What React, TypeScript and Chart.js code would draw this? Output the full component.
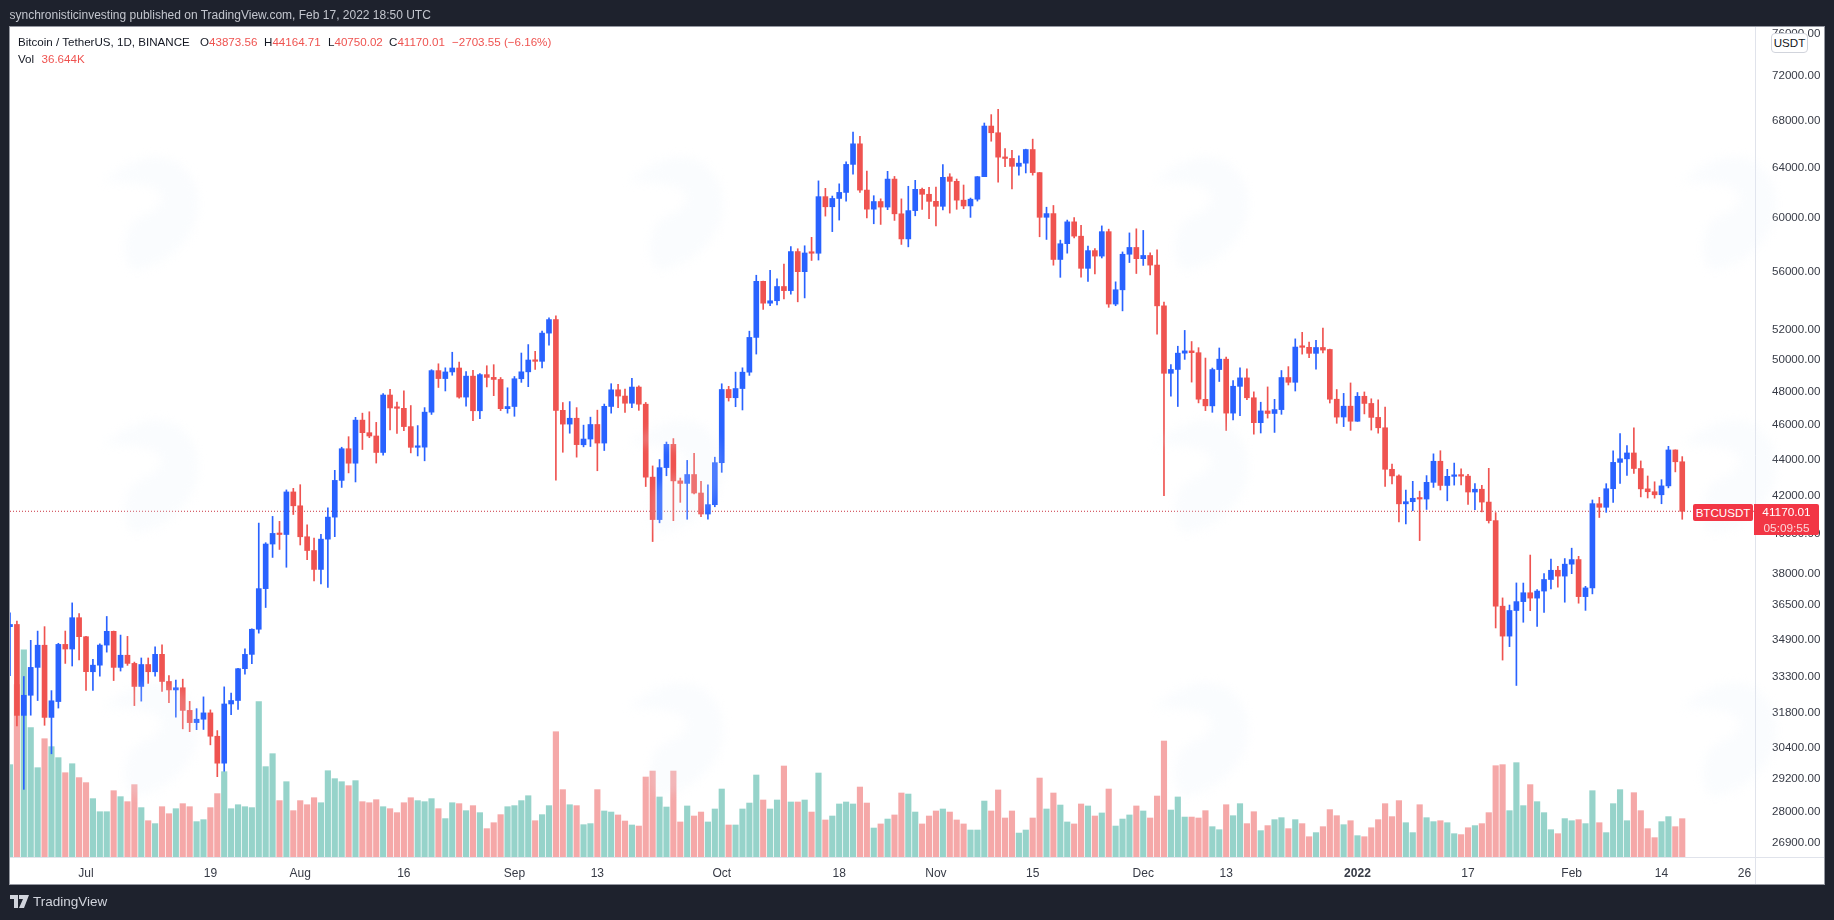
import React, { useEffect, useRef } from "react";
import { Chart, registerables } from "chart.js";

Chart.register(...registerables);

const opens = [35500,35600,31676,32505,33690,34663,31594,32243,34700,34494,35911,35045,33502,33786,34669,35287,33690,34220,33863,32875,33815,33502,34259,33086,32729,32820,31880,31383,31520,31778,30839,29790,32144,32287,33634,34258,35381,37276,39474,40016,39960,42206,41461,39845,39147,38207,39723,40862,42836,44614,43792,46284,45543,45350,44400,47800,47014,46990,45900,44695,44705,46760,49322,48821,49239,49488,47674,48974,46843,49069,48895,48767,46970,47100,48810,49246,49999,49915,51756,52666,46868,46048,46395,44842,45173,46025,44940,47103,48121,47737,47299,48292,47241,43016,40734,43546,44865,42810,42670,43160,42147,41025,41519,43820,48141,47634,48200,49224,51471,55315,53785,53955,54949,54660,57471,56005,57367,57347,61672,60875,61528,62005,64280,66001,62193,60688,61286,60852,63078,60328,58413,60575,62253,61859,61300,60911,63254,62896,61395,60940,61470,63273,67525,66947,64882,64774,64122,64380,65519,63606,60058,60344,56891,58057,59707,58617,56247,57541,57138,58960,53723,54716,57274,57776,56950,57184,56484,53601,49152,49396,50441,50588,50471,47535,47140,49389,50053,46702,48336,48864,47632,46133,46834,46681,46914,48887,48588,50838,50821,50428,50809,50679,47543,46470,47120,46217,47722,47286,46446,45832,43451,43082,41566,41679,41864,41822,42729,43902,42558,43059,43083,43071,42201,42352,41660,40680,36445,35071,36244,36660,37080,36825,37160,37716,38166,37881,38466,38694,36896,37311,41571,41382,42380,43839,44038,44372,43495,42373,42217,42053,42535,44544,43873.56];
const highs = [36137,35750,33298,34881,35298,35500,32700,34749,35300,36600,36100,35060,34042,34725,35967,35300,35118,35059,33920,34100,34100,34592,34678,33340,33150,33185,32250,31950,32438,31900,31063,32858,32600,33650,34500,35398,40550,39542,40900,40640,42316,42400,42600,40460,39780,39969,41350,43392,44700,45310,46450,46700,46784,46150,47886,48144,47372,48053,47160,45960,47033,49382,49757,49500,50500,49860,49264,49342,49131,49632,49700,48888,48246,48950,50450,51000,50558,51900,52780,52920,47340,47399,47033,45987,46460,46880,47250,48500,48460,48168,48843,48368,47347,43639,44000,45000,45200,42966,43950,44350,42787,42590,44132,48495,48336,49228,49500,51886,55750,55332,56100,55489,56561,57839,57680,57900,58532,62933,62333,61718,62695,64486,67000,66639,63732,61747,61500,63710,63293,61496,62499,62980,62359,62405,62437,64270,63516,63086,62600,61560,63286,67789,68524,69000,65600,65460,64985,65550,66401,63617,60840,60976,58320,59845,60029,59444,57875,57700,59398,59150,55280,57445,58865,59176,59053,57375,57600,53859,49699,50891,51936,51200,50797,50125,49485,50777,50189,48700,49500,49436,47995,47360,48300,47537,49328,49576,51375,51810,51156,51280,52088,50704,48139,47900,48548,47954,47990,47570,47505,47070,43748,43145,42300,42786,42248,43100,44322,44500,43448,43800,43475,43176,42664,42559,43505,41100,36835,36499,37550,37545,38919,37234,38000,38720,38359,38744,39265,38855,37387,41772,41913,42656,44500,45492,44799,45821,43920,43079,42760,42876,44751,44549,44164.71];
const lows = [33336,31251,28805,31683,32286,31275,30151,31975,33862,33750,34017,32711,32711,33316,34357,33125,33532,33777,32077,32261,33004,33307,32666,32200,31600,31133,31020,31100,31108,30500,29278,29482,31708,31924,33400,33850,35205,36383,38800,39200,38313,41000,39426,38683,37642,37508,37332,39850,42450,43250,42750,44570,45250,43800,44250,45700,45500,45660,44376,44203,43927,46622,48266,48050,49029,47600,47126,46250,46376,48300,47762,46853,46700,46512,48584,48316,49400,49500,50969,42843,44412,45513,44134,44722,44742,43370,44512,46700,47033,46750,47029,46868,42500,39600,40565,43091,40675,41646,40750,42098,40888,40753,41410,43283,47430,47088,46891,49022,50382,53357,53617,53661,54080,54415,53879,54150,56818,56850,60150,58963,59844,61322,63481,62000,60000,59562,59510,60650,59817,58000,57820,60174,60673,59945,59405,60624,60382,60677,60721,60050,61322,63273,66222,62822,64100,62278,63400,63576,63400,58574,58373,56474,55600,57353,58486,55610,55317,55837,57000,53500,53610,53256,56666,55875,56458,55777,51680,42000,47727,47100,50039,48600,47320,46852,46751,48638,45672,46290,46547,47511,45456,45524,46406,45558,46630,48421,48047,50378,50142,49412,50449,47313,46096,45900,45678,46208,46654,45696,45516,42500,42645,40610,40501,41200,39650,41268,42450,42311,41725,42577,42581,41540,41250,41138,40553,35440,34008,34601,32917,35701,36234,35507,36155,37268,37351,36632,38000,36586,36250,37026,40843,41116,41645,42667,43117,43216,41938,41880,41870,41570,42427,43307,40750.02];
const closes = [35600,31676,32505,33690,34663,31594,32276,34700,34494,35911,35045,33504,33786,34669,35287,33690,34220,33863,32875,33815,33502,34259,33086,32729,32820,31880,31383,31520,31778,30839,29790,32144,32287,33634,34258,35381,37276,39474,40016,39960,42206,41461,39845,39147,38207,39723,40862,42836,44614,43792,46284,45543,45350,44400,47800,47014,46990,45901,44695,44705,46760,49322,48821,49239,49488,47674,48974,46843,49069,48895,48767,46970,47100,48810,49246,49999,49915,51756,52663,46863,46048,46395,44850,45173,46025,44940,47111,48121,47737,47299,48292,47241,43015,40734,43543,44865,42810,42670,43160,42147,41026,41524,43824,48141,47634,48200,49224,51471,55315,53785,53951,54949,54659,57471,56005,57367,57347,61672,60875,61528,62009,64280,66001,62193,60688,61286,60852,63078,60328,58413,60575,62253,61859,61299,60911,63219,62896,61395,60937,61470,63273,67525,66947,64882,64774,64122,64380,65519,63606,60058,60344,56891,58052,59707,58622,56247,57541,57138,58960,53726,54721,57274,57776,56950,57184,56480,53601,49152,49396,50441,50588,50471,47545,47140,49389,50053,46702,48343,48864,47632,46131,46834,46681,46914,48887,48588,50838,50821,50429,50809,50640,47543,46464,47120,46216,47722,47286,46446,45832,43451,43082,41566,41680,41864,41822,42729,43902,42560,43059,43084,43071,42201,42352,41660,40680,36445,35071,36244,36660,37080,36826,37160,37716,38166,37881,38466,38694,36896,37311,41575,41382,42380,43839,44042,44372,43495,42373,42217,42053,42535,44544,43873,41170.01];
const volumes = [88.3,164.8,198.2,123.7,85.4,113.1,105.5,95.0,80.6,89.2,75.9,71.1,55.8,43.3,43.3,63.4,57.7,52.9,69.2,47.2,34.7,31.9,48.1,41.4,46.2,51.0,48.1,33.8,35.7,47.2,60.6,81.6,46.2,50.0,48.1,47.2,148.5,86.4,98.8,53.9,72.0,44.3,53.9,50.0,56.7,51.9,82.5,74.9,72.0,68.2,73.0,52.9,51.9,54.8,48.1,46.2,42.4,51.9,56.7,53.9,52.9,55.8,46.2,36.7,51.9,51.0,44.3,49.1,42.4,27.1,32.8,40.5,48.1,49.1,53.9,58.6,34.7,40.5,49.1,119.8,64.4,50.0,49.1,30.9,31.9,64.4,44.0,43.0,40.2,34.4,30.6,29.6,76.5,82.2,57.4,47.8,82.2,33.5,48.8,39.2,43.0,33.5,45.9,65.0,30.6,30.6,45.9,51.6,78.4,54.5,45.9,54.5,87.0,52.6,52.6,54.5,43.0,80.3,35.4,39.2,50.7,52.6,50.7,66.9,51.6,27.7,31.6,36.3,40.2,61.2,60.2,43.0,31.6,39.2,44.0,45.9,43.0,35.4,31.6,25.8,25.8,53.5,44.0,64.1,37.3,44.0,22.9,25.8,37.3,75.5,45.9,61.2,49.7,33.5,31.6,50.7,48.8,39.2,42.1,65.0,29.6,36.3,40.2,48.8,44.0,37.3,58.3,110.9,44.9,57.4,38.2,38.2,37.3,44.3,29.0,26.1,50.0,39.5,51.0,31.9,43.3,25.2,30.0,35.7,37.6,27.1,35.7,31.9,19.4,23.3,29.0,45.3,39.5,30.9,34.7,20.4,19.4,28.0,35.7,51.0,38.6,53.9,32.8,23.3,50.0,37.6,33.8,34.7,32.8,22.3,21.4,28.0,30.0,31.9,42.4,87.3,88.3,44.3,90.2,49.1,69.2,52.9,42.4,26.1,22.3,36.7,34.7,35.7,31.9,63.4,32.8,23.3,51.0,64.4,34.7,61.5,44.3,27.1,18.5,33.8,38.6,29.0,36.644];

const priceTicks = [76000,72000,68000,64000,60000,56000,52000,50000,48000,46000,44000,42000,40000,38000,36500,34900,33300,31800,30400,29200,28000,26900];
const xTickPositions = [11,29,42,57,73,85,103,120,134,148,164,176,195,211,226,239,251];
const xTickLabels = ["Jul","19","Aug","16","Sep","13","Oct","18","Nov","15","Dec","13","2022","17","Feb","14","26"];
const lastPrice = 41170.01;

const UP = "#2962ff";
const DOWN = "#ef5350";
const VOL_UP = "#96d3ca";
const VOL_DOWN = "#f5a8a8";
const FONT = '"Liberation Sans", Arial, sans-serif';

const W = 1834;
const H = 920;
const PANEL = { left: 10, top: 27, right: 1824, bottom: 884 };
const AXIS_X = 1755;
const AXIS_Y = 857;

const frame = {
  id: "frame",
  beforeDraw(chart: any) {
    const c = chart.ctx;
    c.save();
    c.fillStyle = "#1e222d";
    c.fillRect(0, 0, W, H);
    c.fillStyle = "#ffffff";
    c.fillRect(PANEL.left, PANEL.top, PANEL.right - PANEL.left, PANEL.bottom - PANEL.top);
    c.strokeStyle = "#e0e3eb";
    c.lineWidth = 1;
    c.beginPath();
    c.moveTo(AXIS_X + 0.5, PANEL.top);
    c.lineTo(AXIS_X + 0.5, PANEL.bottom);
    c.moveTo(PANEL.left, AXIS_Y + 0.5);
    c.lineTo(PANEL.right, AXIS_Y + 0.5);
    c.stroke();
    c.strokeStyle = "#9598a1";
    c.strokeRect(PANEL.left - 0.5, PANEL.top - 0.5, PANEL.right - PANEL.left + 1, PANEL.bottom - PANEL.top + 1);
    c.restore();
  },
  afterDatasetsDraw(chart: any) {
    const c = chart.ctx;
    c.save();
    c.beginPath();
    c.rect(PANEL.left, PANEL.top, PANEL.right - PANEL.left, PANEL.bottom - PANEL.top);
    c.clip();
    c.filter = "blur(5px)";
    c.fillStyle = "rgba(232,238,250,0.2)";
    for (const gx of [103, 628, 1153, 1681]) {
      for (const gy of [157, 420, 683]) {
        const px = (u: number) => gx + u * 95;
        const py = (v: number) => gy + v * 113;
        c.beginPath();
        c.moveTo(px(0), py(0.22));
        c.bezierCurveTo(px(0.2), py(0.1), px(0.35), py(0), px(0.55), py(0));
        c.bezierCurveTo(px(0.85), py(0), px(1), py(0.2), px(1), py(0.42));
        c.bezierCurveTo(px(1), py(0.7), px(0.7), py(0.95), px(0.35), py(1));
        c.bezierCurveTo(px(0.22), py(1), px(0.2), py(0.75), px(0.28), py(0.62));
        c.bezierCurveTo(px(0.35), py(0.5), px(0.62), py(0.5), px(0.62), py(0.36));
        c.bezierCurveTo(px(0.62), py(0.26), px(0.4), py(0.22), px(0), py(0.22));
        c.fill();
      }
    }
    c.restore();
  },
};

const abs = (l: number, t: number, extra: React.CSSProperties = {}): React.CSSProperties => ({
  position: "absolute",
  left: l,
  top: t,
  fontFamily: FONT,
  whiteSpace: "nowrap",
  lineHeight: "14px",
  ...extra,
});

export default function App() {
  const ref = useRef<HTMLCanvasElement | null>(null);

  useEffect(() => {
    document.body.style.margin = "0";
    const idx = closes.map((_, i) => i);
    const isUp = (i: number) => closes[i] >= opens[i];
    const xMax = 252.53;
    const chart = new Chart(ref.current as HTMLCanvasElement, {
      type: "bar",
      data: {
        datasets: [
          {
            label: "Body",
            data: idx.map((i) => ({ x: i, y: [opens[i], closes[i]] })),
            backgroundColor: idx.map((i) => (isUp(i) ? UP : DOWN)),
            barThickness: 5,
            minBarLength: 1.5,
            grouped: false,
            xAxisID: "x",
            yAxisID: "y",
            order: 1,
          },
          {
            label: "Wick",
            data: idx.map((i) => ({ x: i, y: [lows[i], highs[i]] })),
            backgroundColor: idx.map((i) => (isUp(i) ? UP : DOWN)),
            barThickness: 1,
            grouped: false,
            xAxisID: "x",
            yAxisID: "y",
            order: 2,
          },
          {
            type: "line",
            label: "Last",
            data: [
              { x: 0, y: lastPrice },
              { x: xMax, y: lastPrice },
            ],
            borderColor: "#c9323f",
            borderWidth: 1,
            borderDash: [1, 2],
            pointRadius: 0,
            xAxisID: "x",
            yAxisID: "y",
            order: 3,
          },
          {
            label: "Vol",
            data: idx.map((i) => ({ x: i, y: volumes[i] })),
            backgroundColor: idx.map((i) => (isUp(i) ? VOL_UP : VOL_DOWN)),
            barThickness: 5.5,
            grouped: false,
            xAxisID: "x",
            yAxisID: "v",
            order: 4,
          },
        ] as any,
      },
      options: {
        responsive: false,
        animation: false,
        devicePixelRatio: 1,
        layout: { padding: { left: 10, top: 27, right: 10, bottom: 36 } },
        plugins: { legend: { display: false }, tooltip: { enabled: false }, title: { display: false } },
        scales: {
          x: {
            type: "linear",
            min: 0,
            max: xMax,
            offset: false,
            grid: { display: false, offset: false },
            border: { display: false },
            afterBuildTicks: (s: any) => {
              s.ticks = xTickPositions.map((value) => ({ value }));
            },
            afterFit: (s: any) => {
              s.height = 27;
            },
            ticks: {
              autoSkip: false,
              maxRotation: 0,
              padding: 1,
              color: "#363a45",
              font: (ctx: any) => ({
                family: FONT,
                size: 12,
                weight: xTickLabels[xTickPositions.indexOf(ctx.tick?.value)] === "2022" ? "bold" : "normal",
              }),
              callback: (v: any) => xTickLabels[xTickPositions.indexOf(Number(v))] ?? "",
            },
          },
          y: {
            type: "logarithmic",
            position: "right",
            bounds: "data",
            min: 26408,
            max: 76686,
            grid: { display: false },
            border: { display: false },
            afterBuildTicks: (s: any) => {
              s.ticks = priceTicks.map((value) => ({ value }));
            },
            afterFit: (s: any) => {
              s.width = 69;
            },
            ticks: {
              autoSkip: false,
              padding: 9,
              color: "#363a45",
              font: { family: FONT, size: 11.6 },
              callback: (v: any) => Number(v).toFixed(2),
            },
          },
          v: {
            type: "linear",
            display: false,
            min: 0,
            max: 793.6,
          },
        },
      } as any,
      plugins: [frame],
    });
    return () => chart.destroy();
  }, []);

  const val: React.CSSProperties = { color: "#ef5350" };
  return (
    <div style={{ position: "absolute", left: 0, top: 0, width: W, height: H, overflow: "hidden" }}>
      <canvas ref={ref} width={W} height={H} style={{ display: "block", width: W, height: H }} />
      <div style={abs(9.5, 8, { color: "#c3c6ce", fontSize: 12 })}>
        synchronisticinvesting published on TradingView.com, Feb 17, 2022 18:50 UTC
      </div>
      <div style={abs(18, 35, { color: "#131722", fontSize: 11.6 })}>Bitcoin / TetherUS, 1D, BINANCE</div>
      <div style={abs(200, 35, { color: "#131722", fontSize: 11.6 })}>
        O<span style={val}>43873.56</span>
      </div>
      <div style={abs(264, 35, { color: "#131722", fontSize: 11.6 })}>
        H<span style={val}>44164.71</span>
      </div>
      <div style={abs(328, 35, { color: "#131722", fontSize: 11.6 })}>
        L<span style={val}>40750.02</span>
      </div>
      <div style={abs(389, 35, { color: "#131722", fontSize: 11.6 })}>
        C<span style={val}>41170.01</span>
      </div>
      <div style={abs(452, 35, { ...val, fontSize: 11.6 })}>−2703.55 (−6.16%)</div>
      <div style={abs(18, 52, { color: "#131722", fontSize: 11.6 })}>Vol</div>
      <div style={abs(41.5, 52, { ...val, fontSize: 11.6 })}>36.644K</div>
      <div
        style={abs(1771, 33, {
          width: 35,
          height: 18,
          lineHeight: "18px",
          background: "#fff",
          border: "1px solid #d1d4dc",
          borderRadius: 4,
          textAlign: "center",
          color: "#131722",
          fontSize: 11.6,
        })}
      >
        USDT
      </div>
      <div
        style={abs(1693, 504, {
          width: 60,
          height: 17,
          lineHeight: "17px",
          background: "#f23645",
          borderRadius: 2,
          textAlign: "center",
          color: "#fff",
          fontSize: 11.6,
        })}
      >
        BTCUSDT
      </div>
      <div
        style={abs(1754, 504, {
          width: 65,
          height: 31,
          background: "#f23645",
          borderRadius: "0 2px 2px 0",
          textAlign: "center",
          color: "#fff",
          fontSize: 11.8,
          lineHeight: "16px",
        })}
      >
        41170.01
        <br />
        <span style={{ color: "#fbd5d8" }}>05:09:55</span>
      </div>
      <svg style={{ position: "absolute", left: 10, top: 895 }} width="19" height="13" viewBox="0 0 19 13">
        <path d="M0 0h8v13H4V4H0z M9 0h10l-5 13H9l4-9H9z" fill="#d1d4dc" />
      </svg>
      <div style={abs(33, 895, { color: "#d1d4dc", fontSize: 13.5, fontWeight: 500 })}>TradingView</div>
    </div>
  );
}
